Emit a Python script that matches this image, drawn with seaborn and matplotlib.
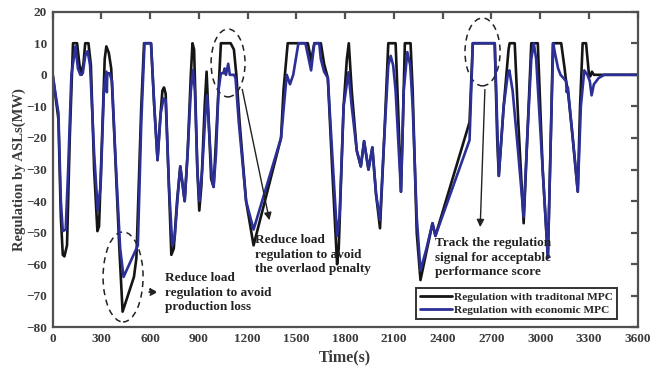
import pandas as pd
import matplotlib
matplotlib.use("Agg")
import matplotlib.pyplot as plt
import seaborn as sns
from matplotlib.patches import Ellipse

sns.set_style("white")
plt.rcParams['font.family'] = ['Liberation Serif', 'DejaVu Serif']
plt.rcParams['font.weight'] = 'bold'

# regulation with traditional MPC
t_trad = [0, 20, 35, 50, 62, 72, 88, 105, 125, 150, 165, 178, 190, 200, 220, 235, 255, 275, 285, 300,
          320, 330, 345, 360, 380, 410, 430, 500, 515, 545, 562, 605, 625, 645, 660, 675, 685, 695, 715, 730,
          745, 765, 785, 800, 812, 830, 850, 860, 870, 890, 902, 915, 935, 947, 960, 975, 990, 1010, 1035, 1095,
          1115, 1130, 1150, 1190, 1236, 1405, 1420, 1446, 1570, 1590, 1610, 1650, 1670, 1693, 1720, 1750, 1760, 1790, 1810, 1822,
          1840, 1871, 1896, 1916, 1943, 1967, 1990, 2014, 2040, 2065, 2110, 2125, 2143, 2155, 2167, 2202, 2215, 2240, 2263, 2300,
          2337, 2355, 2565, 2585, 2720, 2735, 2745, 2775, 2805, 2812, 2843, 2865, 2898, 2920, 2945, 2985, 3015, 3047, 3065, 3078,
          3129, 3150, 3159, 3170, 3200, 3231, 3245, 3261, 3282, 3300, 3308, 3318, 3330, 3600]
p_trad = [0, -8, -14, -45, -57, -57.5, -54, -20, 10, 10, 3, 0, 4, 10, 10, 3, -30, -49.5, -48, -25,
          5, 9, 7, 2, -20, -55, -75, -64, -58, -10, 10, 10, -10, -27, -15, -5, -4, -6, -35, -57,
          -55, -40, -29, -35, -40, -25, 0, 10, 8, -30, -43, -35, -10, 1, -15, -33, -35.5, -15, 10, 10,
          8, 0, -15, -40, -54, -20, -5, 10, 10, 4.5, 10, 10, 3.5, -1, -30, -60, -55, -10, 5, 10,
          -5, -24, -29, -21, -30, -23, -38, -48.6, -20, 10, 10, -10, -37, -15, 10, 10, -5, -50, -65, -56,
          -47, -51, -15, 10, 10, -20, -32, -10, 8, 10, 10, -15, -47, -20, 10, 10, -30, -58, -20, 10,
          10, 2, -2, -5, -20, -37, -10, 10, 10, 0, -0.5, 1, 0, 0]

# regulation with economic MPC
t_econ = [0, 20, 35, 50, 62, 80, 95, 115, 140, 155, 170, 185, 200, 215, 230, 255, 277, 295, 315, 330,
          333, 336, 350, 365, 385, 415, 436, 524, 545, 565, 605, 625, 645, 665, 682, 695, 715, 736, 750, 770,
          785, 800, 812, 830, 850, 863, 875, 890, 902, 920, 940, 950, 965, 980, 990, 1005, 1020, 1035, 1050, 1058,
          1066, 1080, 1090, 1115, 1125, 1145, 1190, 1236, 1405, 1440, 1460, 1480, 1512, 1555, 1590, 1610, 1640, 1650, 1670, 1693,
          1720, 1750, 1765, 1790, 1820, 1840, 1871, 1896, 1916, 1943, 1967, 1990, 2014, 2040, 2065, 2080, 2095, 2110, 2143, 2160,
          2182, 2200, 2215, 2240, 2263, 2300, 2337, 2355, 2565, 2585, 2720, 2745, 2775, 2800, 2810, 2830, 2865, 2898, 2920, 2945,
          2960, 2975, 3015, 3047, 3065, 3080, 3090, 3110, 3125, 3159, 3163, 3170, 3200, 3231, 3250, 3271, 3290, 3305, 3316, 3330,
          3360, 3394, 3600]
p_econ = [0, -7, -12, -40, -49.5, -49, -30, 0, 9, 2, 0, 0.5, 6, 7.5, 3, -25, -43, -35, -5, 1,
          -5.5, 0.5, 0.5, -2, -25, -55, -64, -54, -15, 10, 10, -10, -27, -12, -7.5, -8, -35, -54, -52, -38,
          -29, -35, -40, -25, -5, 1.5, -5, -30, -40, -30, -12, -6.5, -20, -33, -35.5, -25, -5, 0.5, 0.5, 2,
          0, 3.5, 0, 0, -1, -15, -40, -49, -20, 0, -3, 0, 10, 10, 1.4, 10, 10, 5, 1, -1,
          -25, -51, -45, -10, 0.8, -10, -24, -29, -21, -30, -23, -38, -46, -20, 3, 6, 3, -5, -37, -5,
          7.2, 3, -10, -45, -62, -55, -47, -51, -20.7, 10, 10, -32, -10, 0, 1.4, -5, -25, -45, -20, 5,
          10, 5, -30, -58, -20, 10, 7, 2, 0, -2, -5.5, -4, -20, -37, -10, 1.4, 0, -2, -6.5, -3,
          -1, 0, 0]

lab_trad = "Regulation with traditonal MPC"
lab_econ = "Regulation with economic MPC"

df = pd.concat([
    pd.DataFrame({"Time": t_trad, "Reg": p_trad, "series": lab_trad}),
    pd.DataFrame({"Time": t_econ, "Reg": p_econ, "series": lab_econ}),
], ignore_index=True)

fig = plt.figure(figsize=(6.63, 3.70), dpi=100)
ax = fig.add_axes([0.0795, 0.115, 0.8824, 0.8535])

sns.lineplot(data=df, x="Time", y="Reg", hue="series", estimator=None, sort=False,
             palette={lab_trad: "#151515", lab_econ: "#2b2f96"}, lw=1.9, ax=ax)
for ln in ax.get_lines():
    ln.set_solid_joinstyle("round")

ax.set_xlim(0, 3600)
ax.set_ylim(-80, 20)
ax.set_xticks(range(0, 3601, 300))
ax.set_yticks(range(-80, 21, 10))

gray = "#505050"
for s in ax.spines.values():
    s.set_color(gray)
    s.set_linewidth(1.6)
ax.tick_params(direction="in", length=5, width=1.6, top=True, right=True,
               color=gray, labelcolor="#3a3a3a", labelsize=9.5, pad=4)
ax.set_xlabel("Time(s)", fontsize=11.5, fontweight="bold", color="#3a3a3a", labelpad=3)
ax.set_ylabel("Regulation by ASLs(MW)", fontsize=10.5, fontweight="bold", color="#3a3a3a", labelpad=0)

# dashed ellipses marking regions of interest
for cx, cy, w, h in [(433, -64, 246, 28.5), (1079, 3.75, 209, 21.5), (2645, 7.25, 216, 21.5)]:
    ax.add_patch(Ellipse((cx, cy), w, h, fill=False, ls=(0, (4, 3)), lw=1.1, color="#222"))

ax.annotate("", xy=(665, -68.8), xytext=(575, -68.8),
            arrowprops=dict(arrowstyle="-|>", color="#222", lw=1.1, ls="--", mutation_scale=11))
ax.annotate("", xy=(1337, -46.9), xytext=(1163, -3.75),
            arrowprops=dict(arrowstyle="-|>", color="#222", lw=1.0, mutation_scale=11))
ax.annotate("", xy=(2630, -49.1), xytext=(2660, -3.8),
            arrowprops=dict(arrowstyle="-|>", color="#222", lw=1.0, mutation_scale=11))

txt = dict(fontsize=9.5, fontweight="bold", color="#222", va="center", ha="left", linespacing=1.28)
ax.text(691, -69, "Reduce load\nregulation to avoid\nproduction loss", **txt)
ax.text(1245, -57, "Reduce load\nregulation to avoid\nthe overlaod penalty", **txt)
ax.text(2353, -58, "Track the regulation\nsignal for acceptable\nperformance score", **txt)

h, l = ax.get_legend_handles_labels()
leg = ax.legend(h, l, loc="lower right", bbox_to_anchor=(0.9646, 0.027), fontsize=8.2,
                frameon=True, fancybox=False, edgecolor="#333", framealpha=1,
                handlelength=2.8, handletextpad=0.2, borderpad=0.35, labelspacing=0.3,
                borderaxespad=0)
leg.get_frame().set_linewidth(1.4)
for line in leg.get_lines():
    line.set_linewidth(2.0)

fig.savefig("out.png", dpi=100)
